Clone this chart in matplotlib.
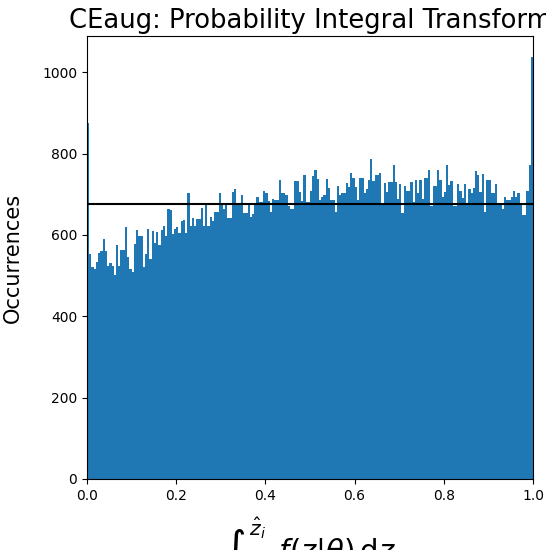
import numpy as np
import matplotlib
matplotlib.use("Agg")
import matplotlib.pyplot as plt

# PIT histogram counts, 200 equal-width bins on [0, 1]
counts_a = [875, 552, 522, 516, 534, 555, 560, 589, 561, 524, 530, 524, 501, 574, 524, 564,
            564, 620, 545, 516, 510, 578, 612, 597, 598, 520, 552, 614, 540, 609, 580, 607,
            574, 612, 623, 597, 663, 661, 603, 615]
counts_b = [620, 605, 634, 636, 605, 702, 623, 642, 623, 639, 640, 667, 623, 675, 623, 645,
            635, 657, 657, 702, 677, 663, 677, 642, 642, 706, 713, 679, 679, 697, 654, 654,
            677, 645, 651, 673, 693, 680, 680, 707]
counts_c = [702, 683, 657, 689, 686, 686, 735, 702, 702, 699, 672, 664, 664, 733, 733, 705,
            683, 747, 680, 680, 707, 745, 760, 737, 687, 692, 697, 737, 716, 685, 685, 657,
            721, 697, 703, 703, 727, 718, 751, 741]
counts_d = [718, 685, 740, 740, 703, 712, 735, 787, 733, 747, 747, 751, 679, 727, 705, 729,
            729, 772, 729, 689, 725, 655, 720, 707, 707, 729, 680, 735, 703, 735, 689, 740,
            740, 759, 672, 720, 720, 759, 735, 692]
counts_e = [705, 772, 723, 733, 671, 671, 726, 709, 691, 725, 674, 712, 703, 716, 756, 747,
            705, 750, 657, 735, 735, 702, 702, 725, 677, 674, 664, 692, 686, 686, 692, 707,
            692, 702, 677, 648, 648, 707, 772, 1037]
counts = np.array(counts_a + counts_b + counts_c + counts_d + counts_e, dtype=float)

n_bins = 200
expected_count = 677  # uniform reference level

edges = np.linspace(0.0, 1.0, n_bins + 1)
centers = 0.5 * (edges[:-1] + edges[1:])

fig = plt.figure(figsize=(5.46, 5.5), dpi=100)
ax = fig.add_axes([87 / 546, 71 / 550, 446 / 546, 443 / 550])

ax.hist(centers, bins=edges, weights=counts, color="#1f77b4", histtype="stepfilled")
ax.axhline(expected_count, color="black", lw=1.5)

ax.set_xlim(0, 1)
ax.set_ylim(0, 1089)

ax.set_title("CEaug: Probability Integral Transform", fontsize=18.6)
ax.set_ylabel("Occurrences", fontsize=15, labelpad=14)
ax.set_xlabel(r"$\int_{-\infty}^{\hat{z}_i} f(z|\theta)\,\mathrm{d}z$", fontsize=21, labelpad=9)

fig.savefig("out.png", dpi=100)
